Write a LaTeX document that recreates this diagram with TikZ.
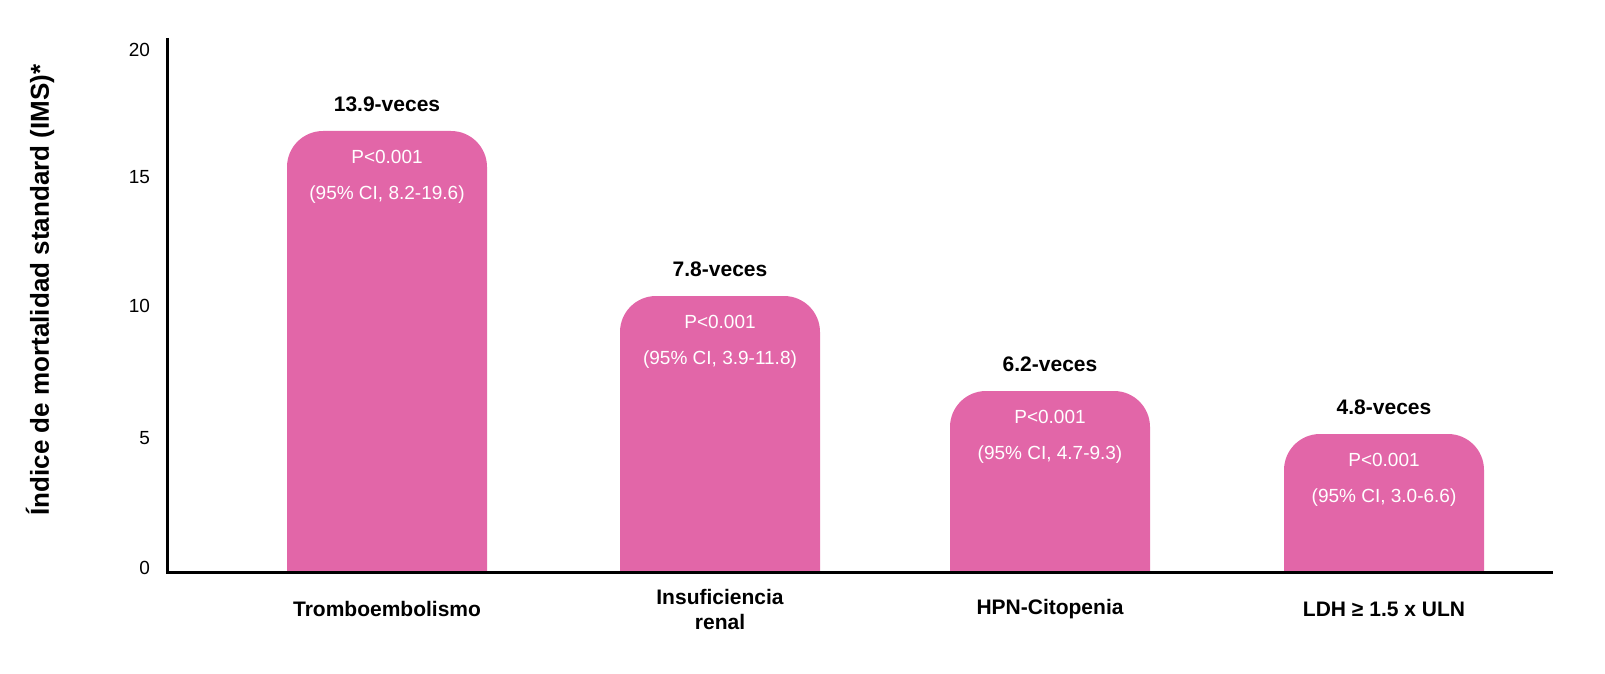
\documentclass[tikz,border=0pt]{standalone}
\usepackage{fontspec}
\setmainfont{Liberation Sans}
\definecolor{barpink}{HTML}{E266A8}
\tikzset{
  bar/.style={fill=barpink},
  veces/.style={font=\bfseries\fontsize{10.5}{12}\selectfont},
  dentro/.style={text=white,font=\fontsize{9.5}{11}\selectfont},
  categoria/.style={font=\bfseries\fontsize{10.5}{12.5}\selectfont,align=center},
  tick/.style={font=\fontsize{9.5}{11}\selectfont}
}
\begin{document}
\begin{tikzpicture}[x=0.5pt,y=-0.5pt]
  % barras: izquierda, altura, etiqueta, IC, categoria
  \foreach \xl/\top/\lab/\ci/\cat/\i in {287/131/13.9/{8.2-19.6}/Tromboembolismo/1,
      620/296/7.8/{3.9-11.8}/{Insuficiencia\\renal}/2,
      950/391/6.2/{4.7-9.3}/HPN-Citopenia/3,
      1284/434/4.8/{3.0-6.6}/{LDH ≥ 1.5 x ULN}/4}{
    \fill[bar] (\xl,572) [rounded corners=18pt] -- (\xl,\top) -- (\xl+200,\top)
      [sharp corners] -- (\xl+200,572) -- cycle;
    \node[veces] (v\i) at (\xl+100,\top-27) {\lab-veces};
    \node[dentro] (p\i) at (\xl+100,\top+26) {P<0.001};
    \node[dentro] (c\i) at (\xl+100,\top+64) {(95\% CI, \ci)};
    \node[categoria] (k\i) at (\xl+100,609) {\cat};
  }
  % ejes
  \coordinate (o) at (167,572);
  \coordinate (ytop) at (167,38);
  \coordinate (xend) at (1553,572);
  \draw[line width=1.5pt] (ytop) -- (o) -- (xend);
  \foreach \v/\yy in {0/568,5/438,10/306,15/177,20/50}
    \node[tick,anchor=east] (t\v) at (157,\yy) {\v};
  \node[rotate=90,font=\bfseries\fontsize{13}{15}\selectfont] (ylab) at (40,290)
    {Índice de mortalidad standard (IMS)*};
  \pgfresetboundingbox
  \useasboundingbox (0,0) rectangle (1605,674);
\end{tikzpicture}
\end{document}
